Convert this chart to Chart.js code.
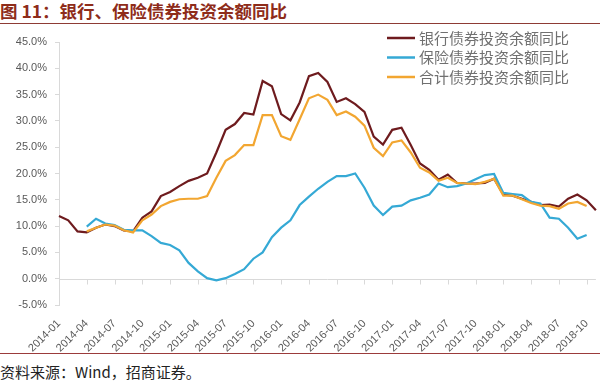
<!DOCTYPE html>
<html>
<head>
<meta charset="utf-8">
<script src="https://cdn.jsdelivr.net/npm/chart.js@4"></script>
<style>
  body { margin: 0; background: #fff; width: 600px; height: 391px; overflow: hidden; }
  #title {
    height: 23px; border-bottom: 1.5px solid #8e3b35;
    font: bold 17.5px "Noto Sans CJK SC", sans-serif; color: #8e2c1a;
    line-height: 21px; white-space: nowrap;
  }
  #wrap { position: relative; width: 600px; height: 329px; }
  #src {
    border-top: 1px solid #9b3b3b;
    font: 15px "Noto Sans CJK SC", sans-serif; color: #222;
    padding-top: 7px; white-space: nowrap;
  }
</style>
</head>
<body>
<div id="title">图 11：银行、保险债券投资余额同比</div>
<div id="wrap"><canvas id="c"></canvas></div>
<div id="src">资料来源：Wind，招商证券。</div>
<script>
  // months 2014-01 .. 2018-11
  const months = [
    '2014-01','2014-02','2014-03','2014-04','2014-05','2014-06','2014-07','2014-08','2014-09','2014-10','2014-11','2014-12',
    '2015-01','2015-02','2015-03','2015-04','2015-05','2015-06','2015-07','2015-08','2015-09','2015-10','2015-11','2015-12',
    '2016-01','2016-02','2016-03','2016-04','2016-05','2016-06','2016-07','2016-08','2016-09','2016-10','2016-11','2016-12',
    '2017-01','2017-02','2017-03','2017-04','2017-05','2017-06','2017-07','2017-08','2017-09','2017-10','2017-11','2017-12',
    '2018-01','2018-02','2018-03','2018-04','2018-05','2018-06','2018-07','2018-08','2018-09','2018-10','2018-11'
  ];

  const seriesNames = ['银行债券投资余额同比', '保险债券投资余额同比', '合计债券投资余额同比'];

  // % yoy
  const bank = [
    11.9, 11.1, 9.0, 8.8, 9.7, 10.3, 10.0, 9.2, 9.0, 11.6, 12.8, 15.7,
    16.5, 17.6, 18.6, 19.2, 20.0, 24.0, 28.3, 29.4, 31.5, 31.2, 37.6, 36.6,
    31.3, 30.1, 33.5, 38.5, 39.1, 37.4, 33.6, 34.3, 33.2, 31.7, 27.0, 25.5,
    28.3, 28.7, 25.4, 21.9, 20.7, 18.8, 19.8, 18.2, 18.1, 18.1, 18.2, 19.0,
    16.0, 15.8, 15.2, 14.6, 14.0, 14.1, 13.7, 15.2, 16.0, 14.9, 13.0
  ];
  const insurance = [
    null, null, null, 9.9, 11.4, 10.5, 10.2, 9.3, 9.2, 9.2, 8.1, 6.8,
    6.4, 5.4, 3.0, 1.4, 0.1, -0.3, 0.1, 0.9, 1.8, 3.8, 5.0, 7.9,
    9.7, 11.1, 14.0, 15.6, 17.1, 18.4, 19.5, 19.5, 20.0, 17.3, 13.9, 12.1,
    13.7, 13.9, 14.9, 15.4, 16.0, 18.1, 17.4, 17.6, 18.1, 18.9, 19.7, 19.9,
    16.3, 16.1, 15.9, 14.6, 14.3, 11.6, 11.4, 9.7, 7.6, 8.3, null
  ];
  const total = [
    null, null, null, 9.0, 9.7, 10.3, 10.1, 9.2, 8.8, 11.1, 12.2, 13.8,
    14.6, 15.1, 15.2, 15.2, 15.7, 19.2, 22.4, 23.5, 25.4, 25.4, 31.1, 31.1,
    27.1, 26.4, 30.3, 34.3, 35.0, 34.0, 31.1, 31.8, 30.8, 29.1, 24.9, 23.3,
    25.9, 26.3, 24.0, 21.1, 20.2, 18.6, 19.2, 18.2, 18.1, 18.0, 18.4, 19.0,
    15.8, 15.8, 15.1, 14.4, 13.9, 13.8, 13.3, 14.3, 14.6, 13.8, null
  ];

  const colors = ['#6e1b1e', '#35a9d5', '#f2a631'];
  const axisGray = '#d9d9d9';
  const labelGray = '#595959';

  // zero line + small tick marks on it, like excel's category axis
  const zeroAxis = {
    id: 'zeroAxis',
    beforeDatasetsDraw(chart) {
      const { ctx, chartArea, scales } = chart;
      const y0 = Math.round(scales.y.getPixelForValue(0)) + 0.5;
      ctx.save();
      ctx.strokeStyle = axisGray;
      ctx.lineWidth = 1;
      ctx.beginPath();
      ctx.moveTo(chartArea.left, y0);
      ctx.lineTo(chartArea.right, y0);
      for (let i = 0; i < months.length; i += 3) {
        const x = Math.round(scales.x.getPixelForValue(i)) + 0.5;
        ctx.moveTo(x, y0);
        ctx.lineTo(x, y0 + 5);
      }
      ctx.stroke();
      ctx.restore();
    }
  };

  // legend sits inside the plot, top right
  const innerLegend = {
    id: 'innerLegend',
    afterDraw(chart) {
      const ctx = chart.ctx;
      ctx.save();
      ctx.font = '15px "Noto Sans CJK SC", sans-serif';
      ctx.textBaseline = 'middle';
      seriesNames.forEach((name, i) => {
        const y = 14 + i * 19.5;
        ctx.strokeStyle = colors[i];
        ctx.lineWidth = 2.5;
        ctx.beginPath();
        ctx.moveTo(387, y);
        ctx.lineTo(415, y);
        ctx.stroke();
        ctx.fillStyle = '#707070';
        ctx.fillText(name, 419, y);
      });
      ctx.restore();
    }
  };

  new Chart(document.getElementById('c'), {
    type: 'line',
    data: {
      labels: months,
      datasets: [
        { label: seriesNames[0], data: bank, borderColor: colors[0], order: 3 },
        { label: seriesNames[1], data: insurance, borderColor: colors[1], order: 2 },
        { label: seriesNames[2], data: total, borderColor: colors[2], order: 1 }
      ]
    },
    options: {
      responsive: true,
      maintainAspectRatio: false,
      animation: false,
      layout: { padding: { top: 18, right: 2, left: 0, bottom: 0 } },
      elements: {
        line: { borderWidth: 2.2, tension: 0, fill: false },
        point: { radius: 0 }
      },
      plugins: {
        legend: { display: false },
        tooltip: { enabled: false }
      },
      scales: {
        x: {
          offset: false,
          grid: { display: false },
          border: { display: false },
          ticks: {
            autoSkip: false,
            minRotation: 45,
            maxRotation: 45,
            padding: 4,
            color: labelGray,
            font: { family: 'Liberation Sans', size: 11 },
            callback: function (val, idx) {
              return idx % 3 === 0 ? months[idx] : null;
            }
          },
          afterFit(scale) { scale.height = 48; }
        },
        y: {
          min: -5,
          max: 45,
          grid: { drawOnChartArea: false, color: axisGray, tickLength: 4 },
          border: { display: true, color: axisGray },
          ticks: {
            stepSize: 5,
            padding: 8,
            color: labelGray,
            font: { family: 'Liberation Sans', size: 11 },
            callback: v => v.toFixed(1) + '%'
          },
          afterFit(scale) { scale.width = 59; }
        }
      }
    },
    plugins: [zeroAxis, innerLegend]
  });
</script>
</body>
</html>
